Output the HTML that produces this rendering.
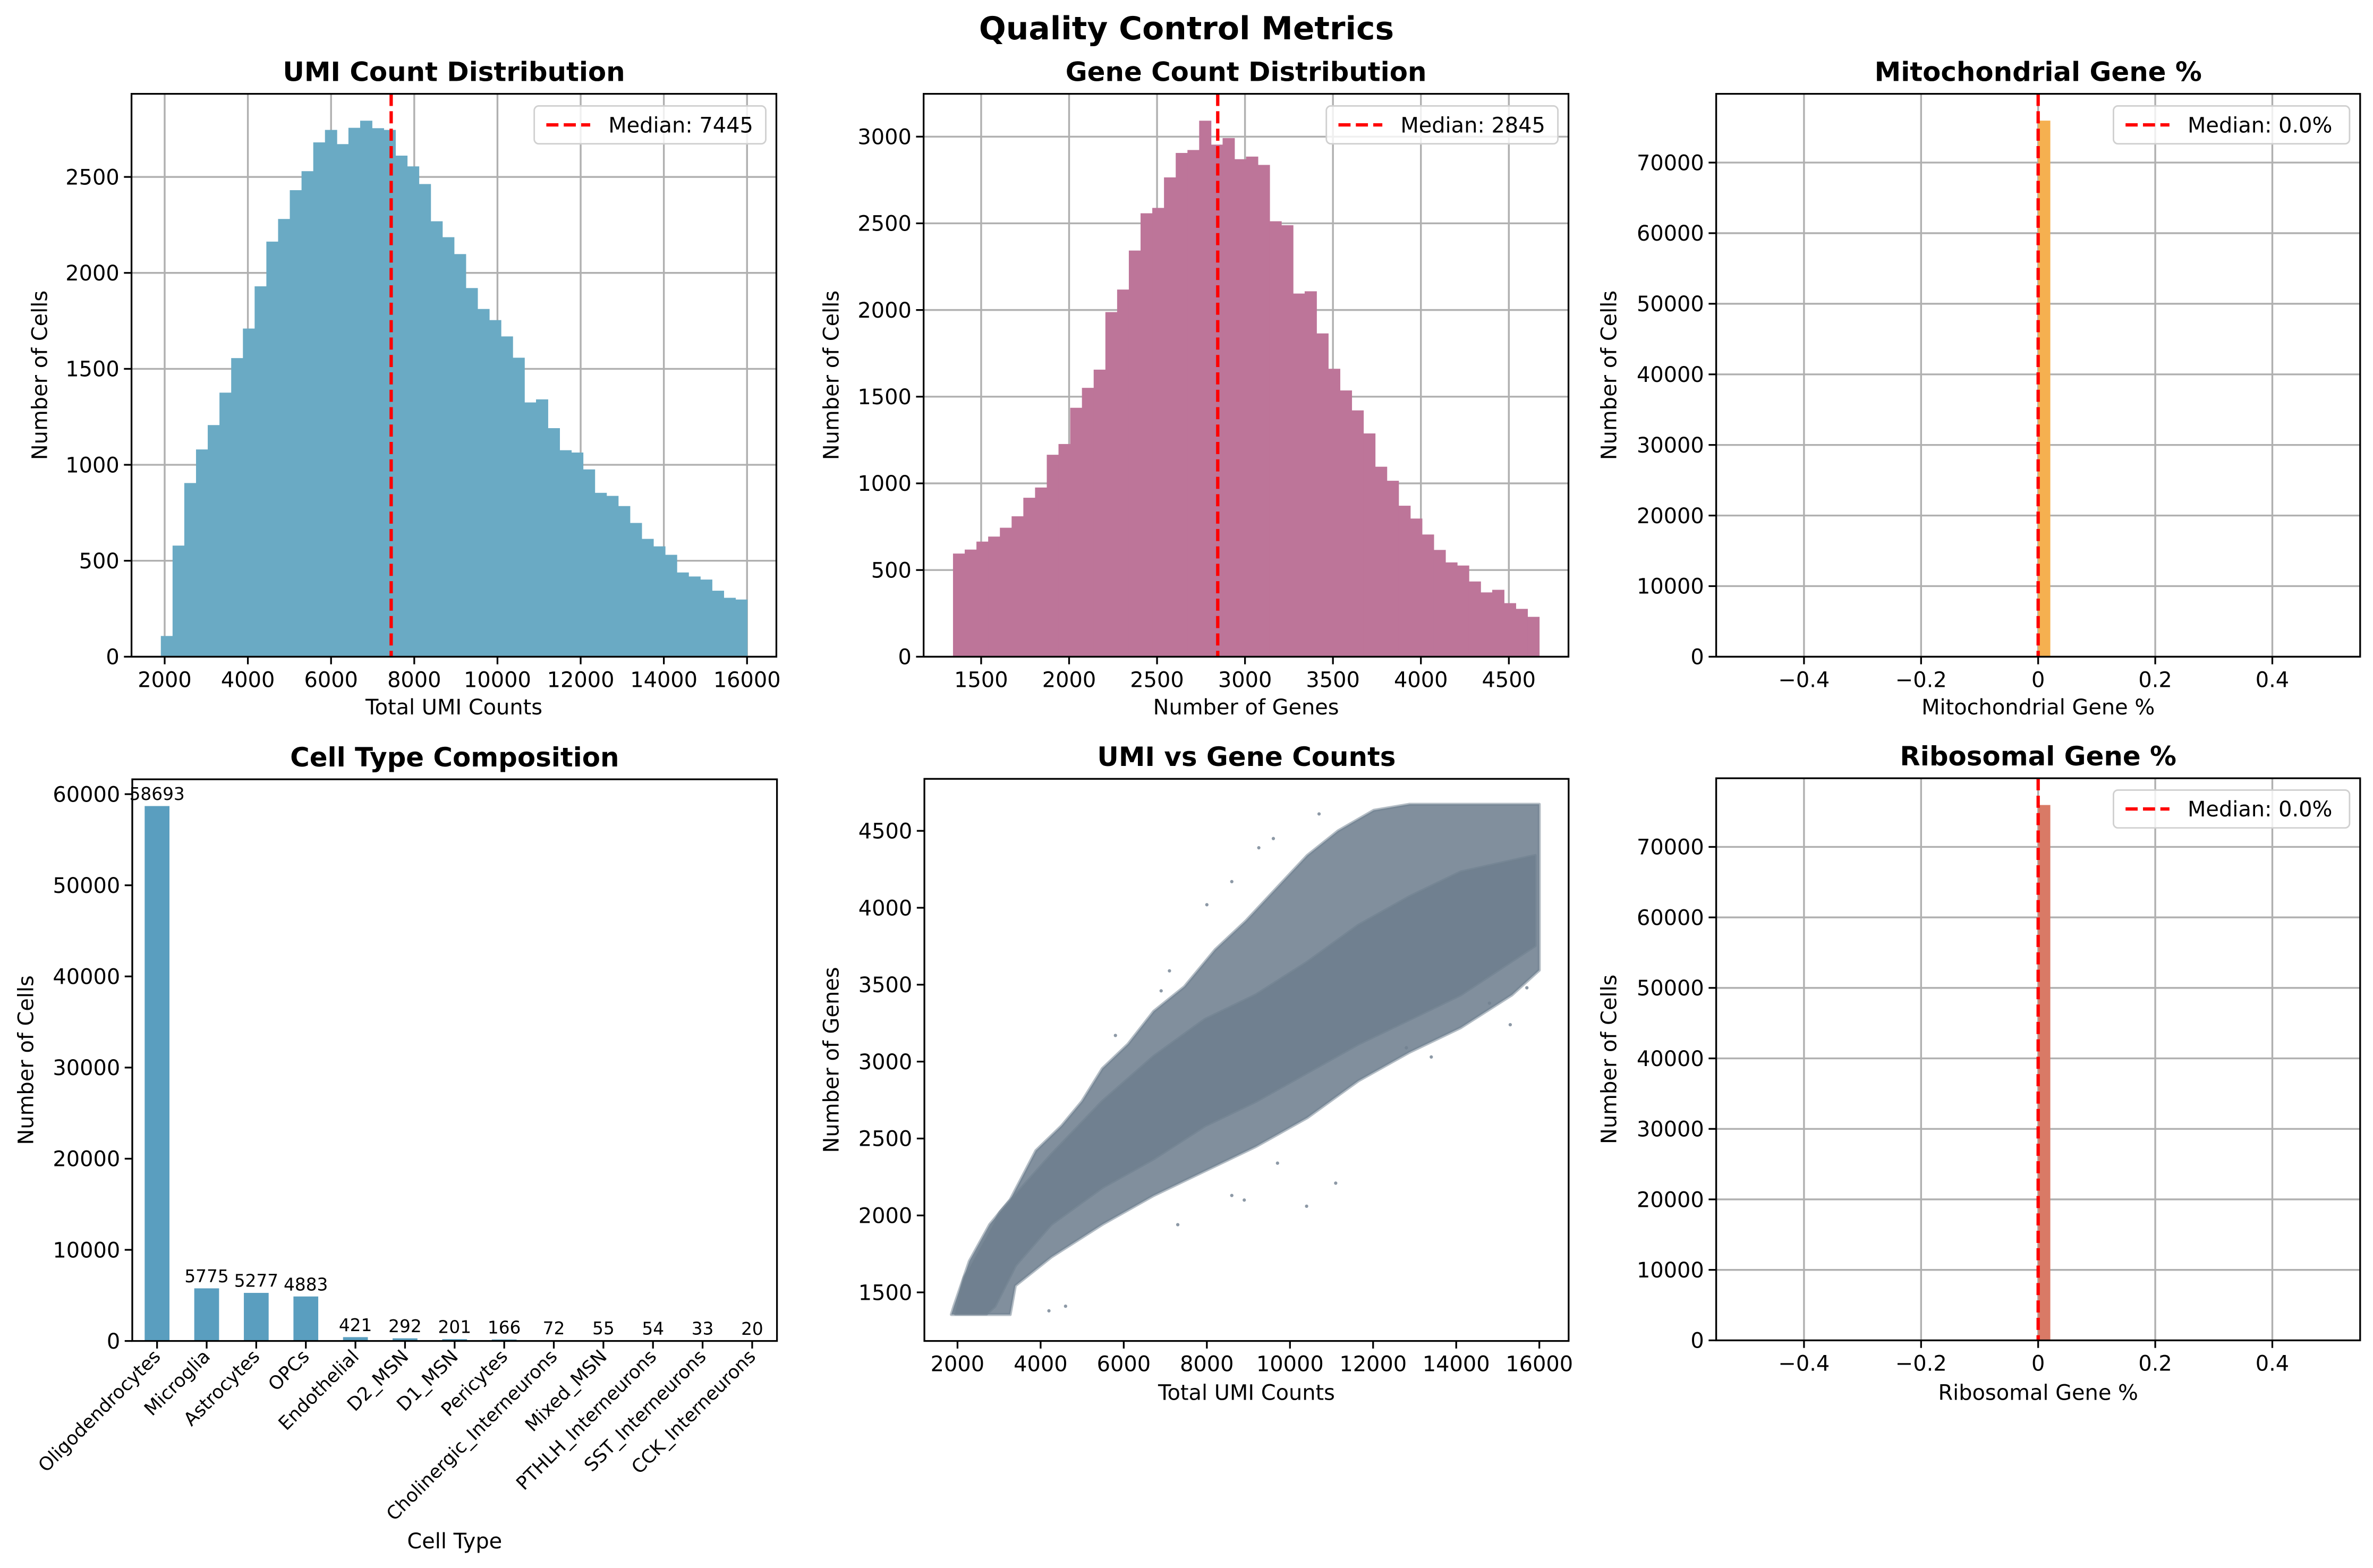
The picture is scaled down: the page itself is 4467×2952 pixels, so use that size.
<!DOCTYPE html>
<html><head><meta charset="utf-8"><style>
html,body{margin:0;padding:0;background:#fff}
svg{display:block;font-family:"DejaVu Sans","Liberation Sans",sans-serif}
</style></head><body>
<svg id="fig" width="4467" height="2952" viewBox="0 0 1568 1036" preserveAspectRatio="none" xmlns="http://www.w3.org/2000/svg">
<rect width="1568" height="1036" fill="#fff"/>
<text x="784" y="26" text-anchor="middle" font-size="21" font-weight="bold">Quality Control Metrics</text>
</svg>
<script>
// ---- data ----
const umiStart = 1908, umiEnd = 16000;
const umiCounts = [108,579,905,1080,1207,1376,1556,1710,1930,2163,2281,2431,2530,2680,2745,2671,2756,2793,2754,2745,2611,2555,2463,2269,2186,2098,1921,1812,1754,1669,1558,1325,1341,1191,1076,1064,976,854,838,785,697,614,575,531,439,418,402,344,307,298];
const umiMedian = 7445;
const geneStart = 1340, geneEnd = 4672;
const geneCounts = [595,618,664,693,744,810,917,976,1165,1227,1436,1551,1656,1988,2118,2343,2558,2589,2765,2906,2923,3092,2954,2992,2870,2885,2837,2512,2489,2095,2108,1865,1661,1536,1421,1288,1096,1015,871,797,705,616,544,526,434,371,386,309,276,230];
const geneMedian = 2845;
const mitoBinStart = 0, mitoBinEnd = 0.02, mitoCount = 75942, mitoMedian = 0.0;
const riboBinStart = 0, riboBinEnd = 0.02, riboCount = 75942, riboMedian = 0.0;
const cellTypes = ["Oligodendrocytes","Microglia","Astrocytes","OPCs","Endothelial","D2_MSN","D1_MSN","Pericytes","Cholinergic_Interneurons","Mixed_MSN","PTHLH_Interneurons","SST_Interneurons","CCK_Interneurons"];
const cellCounts = [58693,5775,5277,4883,421,292,201,166,72,55,54,33,20];
// scatter cloud envelope (UMI, genes)
const scatterOuterUpper = [[1914,1409],[2283,1702],[2776,1942],[3269,2102],[3885,2422],[4501,2582],[4994,2741],[5487,2955],[6103,3114],[6719,3327],[7458,3487],[8197,3727],[8936,3914],[9675,4127],[10415,4340],[11154,4500],[12016,4633],[12879,4673],[16000,4673]];
const scatterOuterLower = [[16000,3594],[15343,3434],[14110,3221],[12879,3061],[11647,2875],[10415,2635],[9183,2448],[7951,2289],[6719,2129],[5487,1942],[4254,1729],[3392,1543],[3269,1356],[1852,1356]];
const scatterCoreUpper = [[1950,1380],[2160,1596],[3023,2022],[4254,2395],[5487,2741],[6719,3034],[7951,3274],[9183,3434],[10415,3647],[11647,3887],[12879,4073],[14110,4233],[15900,4340]];
const scatterCoreLower = [[15900,3754],[14110,3434],[12879,3274],[11647,3114],[10415,2928],[9183,2741],[7951,2582],[6719,2368],[5487,2182],[4254,1942],[3400,1676],[2900,1409],[2700,1360],[1950,1360]];
const scatterOutliers = [[9600,4450],[10700,4610],[9250,4390],[8600,4170],[8000,4020],[7100,3590],[6900,3460],[5800,3170],[11100,2210],[10400,2060],[8600,2130],[8900,2100],[9700,2340],[7300,1940],[4200,1380],[4600,1410],[12800,3090],[13400,3030],[15300,3240],[14800,3380],[15700,3480]];

const NS = "http://www.w3.org/2000/svg";
const svg = document.getElementById("fig");
function mk(tag, attrs, parent) {
  const e = document.createElementNS(NS, tag);
  for (const k in attrs) e.setAttribute(k, attrs[k]);
  (parent || svg).appendChild(e);
  return e;
}
function fmt(v){ return (Math.abs(v)<1e-9?0:v).toString().replace("-","\u2212"); }

function makeAxes(o) {
  const g = mk("g", {});
  
  
  const sx = v => o.x0 + (v - o.xmin) / (o.xmax - o.xmin) * (o.x1 - o.x0);
  const sy = v => o.y1 - (v - o.ymin) / (o.ymax - o.ymin) * (o.y1 - o.y0);
  const grid = mk("g", {}, g);
  
  
  const marks = mk("g", {}, g);
  
  
  const front = mk("g", {}, g);
  if (o.grid) {
    (o.xticks||[]).forEach(t => { const l = mk("line", {x1:sx(t),x2:sx(t),y1:o.y0,y2:o.y1,stroke:"#b0b0b0","stroke-width":1.2}, grid);   });
    o.yticks.forEach(t => { const l = mk("line", {x1:o.x0,x2:o.x1,y1:sy(t),y2:sy(t),stroke:"#b0b0b0","stroke-width":1.2}, grid);   });
  }
  const fin = () => {
    const sp = mk("rect", {x:o.x0,y:o.y0,width:o.x1-o.x0,height:o.y1-o.y0,fill:"none",stroke:"#000","stroke-width":1.15}, front);
     
    (o.xticks||[]).forEach(t => {
      mk("line",{x1:sx(t),x2:sx(t),y1:o.y1,y2:o.y1+5,stroke:"#000","stroke-width":1.15},front);
      const tx = mk("text",{x:sx(t),y:o.y1+20,"text-anchor":"middle","font-size":14},front);
      tx.textContent = fmt(t);
       
    });
    o.yticks.forEach(t => {
      mk("line",{x1:o.x0-5,x2:o.x0,y1:sy(t),y2:sy(t),stroke:"#000","stroke-width":1.15},front);
      const tx = mk("text",{x:o.x0-8,y:sy(t)+5,"text-anchor":"end","font-size":14},front);
      tx.textContent = fmt(t);
       
    });
    const ti = mk("text",{x:(o.x0+o.x1)/2,y:o.y0-8.5,"text-anchor":"middle","font-size":17.5,"font-weight":"bold"},front);
    ti.textContent = o.title;  
    const xl = mk("text",{x:(o.x0+o.x1)/2,y:o.xlabY,"text-anchor":"middle","font-size":14},front);
    xl.textContent = o.xlabel;  
    const yc = (o.y0+o.y1)/2;
    const yl = mk("text",{x:o.ylabX,y:yc,"text-anchor":"middle","font-size":14,transform:`rotate(-90 ${o.ylabX} ${yc})`},front);
    yl.textContent = o.ylabel;  
    if (o.legend) {
      const lx = o.x1 - 7 - o.legW, ly = o.legY;
      const lg = mk("g",{},front);
       
      mk("rect",{x:lx,y:ly,width:o.legW,height:25,rx:3,fill:"#fff","fill-opacity":0.8,stroke:"#d0d0d0","stroke-width":1},lg);
      mk("line",{x1:lx+8,x2:lx+37,y1:ly+12.5,y2:ly+12.5,stroke:"#ff0000","stroke-width":2.2,"stroke-dasharray":"8 3.5"},lg);
      const lt = mk("text",{x:lx+49,y:ly+17.5,"font-size":14},lg);
      lt.textContent = o.legend;
       
    }
  };
  return {sx, sy, marks, fin};
}
function medianLine(ax, v, o) {
  const l = mk("line",{x1:ax.sx(v),x2:ax.sx(v),y1:o.y0,y2:o.y1,stroke:"#ff0000","stroke-width":2.2,"stroke-dasharray":"8 3.5"},ax.marks);
   
}
function hist(ax, start, end, counts, color, nm) {
  const w = (end - start) / counts.length;
  counts.forEach((c, i) => {
    const a = ax.sx(start + i*w), b = ax.sx(start + (i+1)*w);
    const r = mk("rect",{x:a,y:ax.sy(c),width:b-a+0.3,height:ax.sy(0)-ax.sy(c),fill:color},ax.marks);
    
    
  });
}

// Panel 1
const o1 = {name:"umi-histogram",x0:86.9,x1:513,y0:62,y1:433.9,xmin:1203,xmax:16705,ymin:0,ymax:2933,grid:true,
  xticks:[2000,4000,6000,8000,10000,12000,14000,16000],yticks:[0,500,1000,1500,2000,2500],
  title:"UMI Count Distribution",xlabel:"Total UMI Counts",ylabel:"Number of Cells",xlabY:472,ylabX:31,legend:"Median: 7445",legW:153,legY:70};
const a1 = makeAxes(o1);
hist(a1, umiStart, umiEnd, umiCounts, "#6aaac4", "umi-bar");
medianLine(a1, umiMedian, o1); a1.fin();

// Panel 2
const o2 = {name:"gene-histogram",x0:610.3,x1:1036.4,y0:62,y1:433.9,xmin:1173,xmax:4839,ymin:0,ymax:3247,grid:true,
  xticks:[1500,2000,2500,3000,3500,4000,4500],yticks:[0,500,1000,1500,2000,2500,3000],
  title:"Gene Count Distribution",xlabel:"Number of Genes",ylabel:"Number of Cells",xlabY:472,ylabX:554,legend:"Median: 2845",legW:153,legY:70};
const a2 = makeAxes(o2);
hist(a2, geneStart, geneEnd, geneCounts, "#bd7599", "gene-bar");
medianLine(a2, geneMedian, o2); a2.fin();

// Panel 3
const o3 = {name:"mito-histogram",x0:1134,x1:1559.5,y0:62,y1:433.9,xmin:-0.55,xmax:0.55,ymin:0,ymax:79739,grid:true,
  xticks:[-0.4,-0.2,0,0.2,0.4],yticks:[0,10000,20000,30000,40000,50000,60000,70000],
  title:"Mitochondrial Gene %",xlabel:"Mitochondrial Gene %",ylabel:"Number of Cells",xlabY:472,ylabX:1068,legend:"Median: 0.0%",legW:156,legY:70};
const a3 = makeAxes(o3);
hist(a3, mitoBinStart, mitoBinEnd, [mitoCount], "#f5b050", "mito-bar");
medianLine(a3, mitoMedian, o3); a3.fin();

// Panel 4
const o4 = {name:"cell-type-bars",x0:87.4,x1:513.4,y0:514.9,y1:886,xmin:-0.5,xmax:12.5,ymin:0,ymax:61628,grid:false,
  xticks:[],yticks:[0,10000,20000,30000,40000,50000,60000],
  title:"Cell Type Composition",xlabel:"Cell Type",ylabel:"Number of Cells",xlabY:1023,ylabX:22};
const a4 = makeAxes(o4);
cellCounts.forEach((c,i) => {
  const r = mk("rect",{x:a4.sx(i-0.25),y:a4.sy(c),width:a4.sx(0.5)-a4.sx(0),height:a4.sy(0)-a4.sy(c),fill:"#5a9ebf"},a4.marks);
  
  
  const v = mk("text",{x:a4.sx(i),y:a4.sy(c)-4,"text-anchor":"middle","font-size":11.5},a4.marks);
  v.textContent = c;
  
  
  mk("line",{x1:a4.sx(i),x2:a4.sx(i),y1:886,y2:891,stroke:"#000","stroke-width":1.15},a4.marks);
  const px = a4.sx(i)+3, py = 897;
  const t = mk("text",{x:px,y:py,"text-anchor":"end","font-size":12.3,transform:`rotate(-45 ${px} ${py})`},a4.marks);
  t.textContent = cellTypes[i];
  
  
});
a4.fin();

// Panel 5
const o5 = {name:"umi-vs-gene-scatter",x0:610.8,x1:1036.5,y0:514.6,y1:886,xmin:1203,xmax:16705,ymin:1184,ymax:4838,grid:false,
  xticks:[2000,4000,6000,8000,10000,12000,14000,16000],yticks:[1500,2000,2500,3000,3500,4000,4500],
  title:"UMI vs Gene Counts",xlabel:"Total UMI Counts",ylabel:"Number of Genes",xlabY:925,ylabX:554};
const a5 = makeAxes(o5);
function poly(up, low, op, nm) {
  const pts = up.concat(low).map(p => a5.sx(p[0]).toFixed(1)+","+a5.sy(p[1]).toFixed(1)).join(" ");
  const p = mk("polygon",{points:pts,fill:"#708090","fill-opacity":op,stroke:"#708090","stroke-opacity":op*0.6,"stroke-width":2,"stroke-linejoin":"round"},a5.marks);
  
  
}
poly(scatterOuterUpper, scatterOuterLower, 0.88, "scatter-cloud-outer");
poly(scatterCoreUpper, scatterCoreLower, 1, "scatter-cloud-core");
scatterOutliers.forEach(p => {
  const c = mk("circle",{cx:a5.sx(p[0]),cy:a5.sy(p[1]),r:1.1,fill:"#708090","fill-opacity":0.8},a5.marks);
  
  
});
a5.fin();

// Panel 6
const o6 = {name:"ribo-histogram",x0:1134,x1:1559.5,y0:514.2,y1:885.6,xmin:-0.55,xmax:0.55,ymin:0,ymax:79739,grid:true,
  xticks:[-0.4,-0.2,0,0.2,0.4],yticks:[0,10000,20000,30000,40000,50000,60000,70000],
  title:"Ribosomal Gene %",xlabel:"Ribosomal Gene %",ylabel:"Number of Cells",xlabY:925,ylabX:1068,legend:"Median: 0.0%",legW:156,legY:522};
const a6 = makeAxes(o6);
hist(a6, riboBinStart, riboBinEnd, [riboCount], "#d97a66", "ribo-bar");
medianLine(a6, riboMedian, o6); a6.fin();
</script>
</body></html>
